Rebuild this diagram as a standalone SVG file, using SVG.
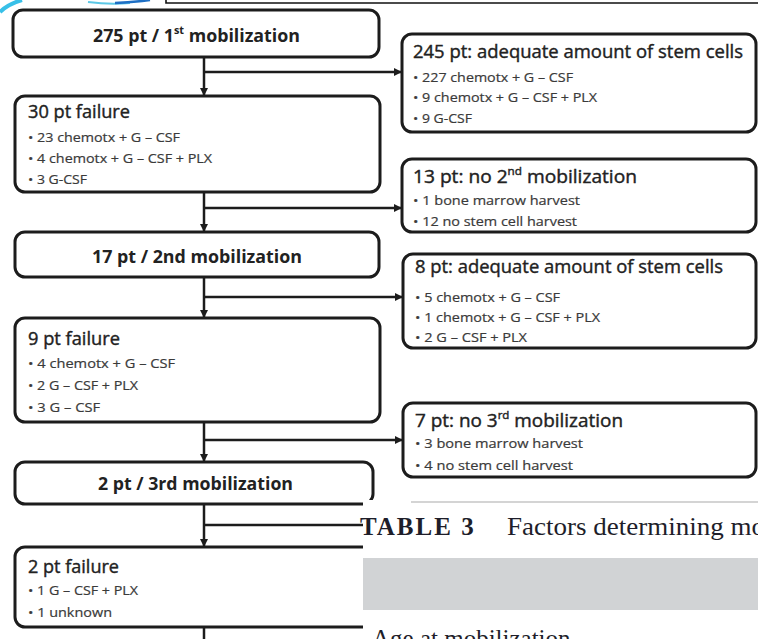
<svg xmlns="http://www.w3.org/2000/svg" width="758" height="639" viewBox="0 0 758 639">
<defs>
<style>
.box{fill:#fff;stroke:#1c1c1c;stroke-width:3}
.ln{fill:none;stroke:#1c1c1c;stroke-width:2.5}
.tb{font-family:"Open Sans","Noto Sans",sans-serif;font-weight:bold;font-size:18px;fill:#222}
.tt{font-family:"Open Sans","Noto Sans",sans-serif;font-size:18px;fill:#222;stroke:#222;stroke-width:0.4}
.bl{font-family:"Open Sans","Noto Sans",sans-serif;font-size:13px;fill:#3a3a3a;stroke:#3a3a3a;stroke-width:0.2}
.ser{font-family:"Liberation Serif",serif;font-size:25px;fill:#1e1e2a}
</style>
<marker id="ah" viewBox="0 0 10 10" refX="10" refY="5" markerWidth="8" markerHeight="8" markerUnits="userSpaceOnUse" orient="auto">
<path d="M0,0 L10,5 L0,10 Z" fill="#1c1c1c"/>
</marker>
</defs>
<rect width="758" height="639" fill="#fff"/>

<g id="logo-fragment">
<path d="M0,12 Q8,4 22,0" fill="none" stroke="#38c0e8" stroke-width="4"/>
<path d="M88,2 Q110,5 130,3" fill="none" stroke="#5cc8e6" stroke-width="2"/>
<path d="M115,3 Q135,2 150,0" fill="none" stroke="#1e6fc4" stroke-width="2.5"/>
<path d="M166,0 L166,3 L758,3" fill="none" stroke="#111" stroke-width="1.6"/>
</g>

<g id="n1">
<rect class="box" x="13" y="10" width="366" height="47" rx="10"/>
<text class="tb" x="93" y="42" textLength="207" lengthAdjust="spacingAndGlyphs">275 pt / 1<tspan font-size="11" dy="-8">st</tspan><tspan dy="8"> mobilization</tspan></text>
</g>

<g id="n2">
<rect class="box" x="402" y="34" width="354" height="98" rx="10"/>
<text class="tt" x="413" y="58" textLength="330" lengthAdjust="spacingAndGlyphs">245 pt: adequate amount of stem cells</text>
<text class="bl" x="413" y="82" textLength="160" lengthAdjust="spacingAndGlyphs">• 227 chemotx + G – CSF</text>
<text class="bl" x="413" y="102" textLength="184" lengthAdjust="spacingAndGlyphs">• 9 chemotx + G – CSF + PLX</text>
<text class="bl" x="413" y="123" textLength="59" lengthAdjust="spacingAndGlyphs">• 9 G-CSF</text>
</g>

<g id="n3">
<rect class="box" x="15" y="96" width="365" height="96" rx="10"/>
<text class="tt" x="28" y="118" textLength="102" lengthAdjust="spacingAndGlyphs">30 pt failure</text>
<text class="bl" x="28" y="142" textLength="152" lengthAdjust="spacingAndGlyphs">• 23 chemotx + G – CSF</text>
<text class="bl" x="28" y="163" textLength="184" lengthAdjust="spacingAndGlyphs">• 4 chemotx + G – CSF + PLX</text>
<text class="bl" x="28" y="184" textLength="59" lengthAdjust="spacingAndGlyphs">• 3 G-CSF</text>
</g>

<g id="n4">
<rect class="box" x="402" y="159" width="354" height="73" rx="10"/>
<text class="tt" x="413" y="183" textLength="224" lengthAdjust="spacingAndGlyphs">13 pt: no 2<tspan font-size="11" dy="-8">nd</tspan><tspan dy="8"> mobilization</tspan></text>
<text class="bl" x="413" y="205" textLength="167" lengthAdjust="spacingAndGlyphs">• 1 bone marrow harvest</text>
<text class="bl" x="413" y="226" textLength="164" lengthAdjust="spacingAndGlyphs">• 12 no stem cell harvest</text>
</g>

<g id="n5">
<rect class="box" x="15" y="232" width="364" height="45" rx="10"/>
<text class="tb" x="92" y="263" textLength="210" lengthAdjust="spacingAndGlyphs">17 pt / 2nd mobilization</text>
</g>

<g id="n6">
<rect class="box" x="403" y="254" width="353" height="94" rx="10"/>
<text class="tt" x="415" y="273" textLength="308" lengthAdjust="spacingAndGlyphs">8 pt: adequate amount of stem cells</text>
<text class="bl" x="415" y="302" textLength="145" lengthAdjust="spacingAndGlyphs">• 5 chemotx + G – CSF</text>
<text class="bl" x="415" y="322" textLength="185" lengthAdjust="spacingAndGlyphs">• 1 chemotx + G – CSF + PLX</text>
<text class="bl" x="415" y="342" textLength="112" lengthAdjust="spacingAndGlyphs">• 2 G – CSF + PLX</text>
</g>

<g id="n7">
<rect class="box" x="15" y="318" width="365" height="104" rx="10"/>
<text class="tt" x="28" y="345" textLength="92" lengthAdjust="spacingAndGlyphs">9 pt failure</text>
<text class="bl" x="28" y="368" textLength="147" lengthAdjust="spacingAndGlyphs">• 4 chemotx + G – CSF</text>
<text class="bl" x="28" y="390" textLength="110" lengthAdjust="spacingAndGlyphs">• 2 G – CSF + PLX</text>
<text class="bl" x="28" y="412" textLength="72" lengthAdjust="spacingAndGlyphs">• 3 G – CSF</text>
</g>

<g id="n8">
<rect class="box" x="403" y="403" width="353" height="74" rx="10"/>
<text class="tt" x="415" y="427" textLength="208" lengthAdjust="spacingAndGlyphs">7 pt: no 3<tspan font-size="11" dy="-8">rd</tspan><tspan dy="8"> mobilization</tspan></text>
<text class="bl" x="415" y="448" textLength="168" lengthAdjust="spacingAndGlyphs">• 3 bone marrow harvest</text>
<text class="bl" x="415" y="470" textLength="158" lengthAdjust="spacingAndGlyphs">• 4 no stem cell harvest</text>
</g>

<g id="n9">
<rect class="box" x="15" y="462" width="358" height="42" rx="10"/>
<text class="tb" x="98" y="490" textLength="195" lengthAdjust="spacingAndGlyphs">2 pt / 3rd mobilization</text>
</g>

<g id="n10">
<rect class="box" x="15" y="547" width="365" height="80" rx="10"/>
<text class="tt" x="28" y="573" textLength="91" lengthAdjust="spacingAndGlyphs">2 pt failure</text>
<text class="bl" x="28" y="595" textLength="110" lengthAdjust="spacingAndGlyphs">• 1 G – CSF + PLX</text>
<text class="bl" x="28" y="617" textLength="84" lengthAdjust="spacingAndGlyphs">• 1 unknown</text>
</g>

<g id="connectors">
<line class="ln" x1="204" y1="57" x2="204" y2="96" marker-end="url(#ah)"/>
<line class="ln" x1="204" y1="72" x2="402" y2="72" marker-end="url(#ah)"/>
<line class="ln" x1="204" y1="192" x2="204" y2="232" marker-end="url(#ah)"/>
<line class="ln" x1="204" y1="208" x2="402" y2="208" marker-end="url(#ah)"/>
<line class="ln" x1="204" y1="277" x2="204" y2="318" marker-end="url(#ah)"/>
<line class="ln" x1="204" y1="297" x2="403" y2="297" marker-end="url(#ah)"/>
<line class="ln" x1="204" y1="422" x2="204" y2="462" marker-end="url(#ah)"/>
<line class="ln" x1="204" y1="440" x2="403" y2="440" marker-end="url(#ah)"/>
<line class="ln" x1="204" y1="504" x2="204" y2="547" marker-end="url(#ah)"/>
<line class="ln" x1="204" y1="525" x2="400" y2="525"/>
<line class="ln" x1="204" y1="627" x2="204" y2="639"/>
</g>

<g id="table-fragment">
<rect x="363" y="500" width="395" height="139" fill="#fff"/>
<line x1="411" y1="502" x2="758" y2="502" stroke="#a9a9a9" stroke-width="1"/>
<text class="ser" x="360" y="535" font-weight="bold" letter-spacing="2" font-size="24">TABLE 3</text>
<text class="ser" x="507" y="535" font-size="26" textLength="258" lengthAdjust="spacingAndGlyphs">Factors determining mo</text>
<rect x="363" y="558" width="395" height="52" fill="#d1d3d5"/>
<text class="ser" x="372" y="647" font-size="26">Age at mobilization</text>
</g>
</svg>
